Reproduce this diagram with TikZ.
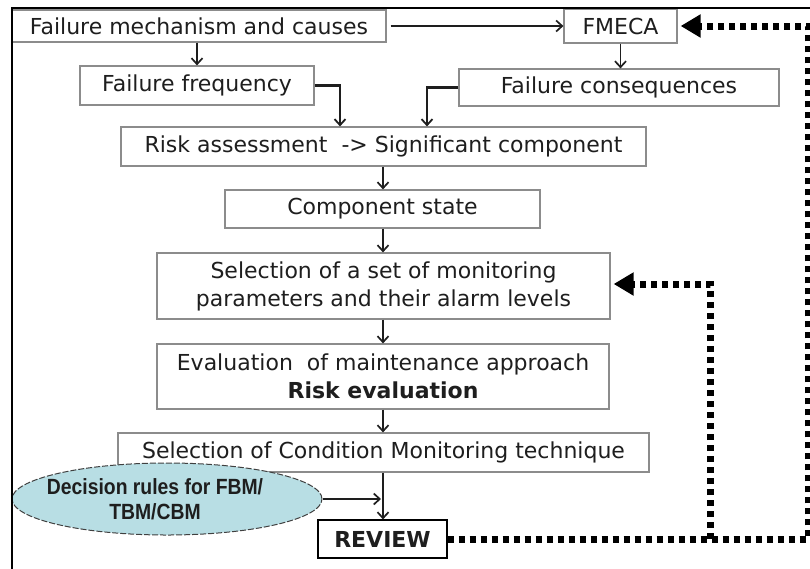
\documentclass[tikz,border=0pt]{standalone}
\usepackage{fontspec}
\setmainfont{DejaVu Sans}
\newfontfamily\ellfont{Liberation Sans}[FakeStretch=0.88]
\usetikzlibrary{arrows.meta,shapes.geometric}
\definecolor{boxgray}{HTML}{8C8C8C}
\definecolor{txt}{HTML}{1E1E1E}
\definecolor{ellfill}{HTML}{B8DEE4}
\begin{document}
\begin{tikzpicture}[x=1pt,y=-1pt,
  box/.style={draw=boxgray, line width=1.2pt, fill=white, inner sep=0pt, text=txt,
              font=\fontsize{22}{28}\selectfont, align=center},
  arr/.style={line width=1.6pt, draw=txt, -{Straight Barb[length=6pt,width=11pt,line width=1.7pt]}},
  arrthick/.style={line width=2.2pt, draw=txt, -{Straight Barb[length=6pt,width=11pt,line width=1.8pt]}},
  dots/.style={line width=7pt, dash pattern=on 6.5pt off 4.5pt, draw=black},
  bigtip/.style={-{Triangle[length=20pt,width=22pt]}}]

\fill[white] (0,0) rectangle (810,568);
\useasboundingbox (0,0) rectangle (810,568);

% boxes
\node[box, minimum width=374pt, minimum height=32pt] (mech) at (199,26) {Failure mechanism and causes};
\node[box, minimum width=113pt, minimum height=34pt] (fmeca) at (620.5,26) {FMECA};
\node[box, minimum width=234pt, minimum height=39pt] (freq) at (197,85.5) {Failure frequency};
\node[box, minimum width=320pt, minimum height=37pt] (cons) at (619,87.5) {Failure consequences};
\node[box, minimum width=525pt, minimum height=39pt] (risk) at (383.5,146.5) {Risk assessment\ \ -> Significant component};
\node[box, minimum width=315pt, minimum height=38pt] (state) at (382.5,209) {Component state};
\node[box, minimum width=453pt, minimum height=66pt] (monitor) at (383.5,286) {Selection of a set of monitoring\\parameters and their alarm levels};
\node[box, minimum width=452pt, minimum height=65pt] (eval) at (383,376.5) {Evaluation\ \ of maintenance approach\\\textbf{Risk evaluation}};
\node[box, minimum width=531pt, minimum height=39pt] (cm) at (383.5,452.5) {Selection of Condition Monitoring technique};
\node[box, draw=black, minimum width=129pt, minimum height=38pt] (review) at (382.5,539) {\textbf{REVIEW}};

% ellipse
\node[ellipse, draw=black!75, dash pattern=on 6pt off 2pt, line width=1pt, fill=ellfill,
      minimum width=310pt, minimum height=72pt, inner sep=0pt] (rules) at (167,499) {};
\node[text=txt, font=\ellfont\bfseries\fontsize{22}{25}\selectfont, align=center, inner sep=0pt]
      (rulestext) at (155,499) {Decision rules for FBM/\\TBM/CBM};

% helper coordinates
\coordinate (spine) at (383,0);
\coordinate (fj) at (340,0);
\coordinate (cj) at (427,0);
\coordinate (join) at (381,499);
\coordinate (br) at (808,539);
\coordinate (tr) at (808,26);
\coordinate (bj) at (710,539);
\coordinate (mj) at (710,284);

% solid connectors
\draw[arr, shorten <=4pt] (mech.east) -- (fmeca.west);
\draw[arr] (mech.south -| freq.north) -- (freq.north);
\draw[arr] (fmeca.south) -- (fmeca.south |- cons.north);
\draw[arrthick] (freq.east) -| (fj |- risk.north);
\draw[arrthick] (cons.west) -| (cj |- risk.north);
\draw[arr] (spine |- risk.south) -- (spine |- state.north);
\draw[arr] (spine |- state.south) -- (spine |- monitor.north);
\draw[arr] (spine |- monitor.south) -- (spine |- eval.north);
\draw[arr] (spine |- eval.south) -- (spine |- cm.north);
\draw[arr] (spine |- cm.south) -- (spine |- review.north);
\draw[arr] (rules.east) -- (join);

% dotted feedback loops
\draw[dots, bigtip, shorten >=3pt] (review.east) -- (br) -- (tr) -- (fmeca.east);
\draw[dots, bigtip, shorten >=3pt] (bj) -- (mj) -- (monitor.east |- mj);

% frame
\draw[line width=2pt, black] (12,570) -- (12,8) -- (812,8);
\end{tikzpicture}
\end{document}
